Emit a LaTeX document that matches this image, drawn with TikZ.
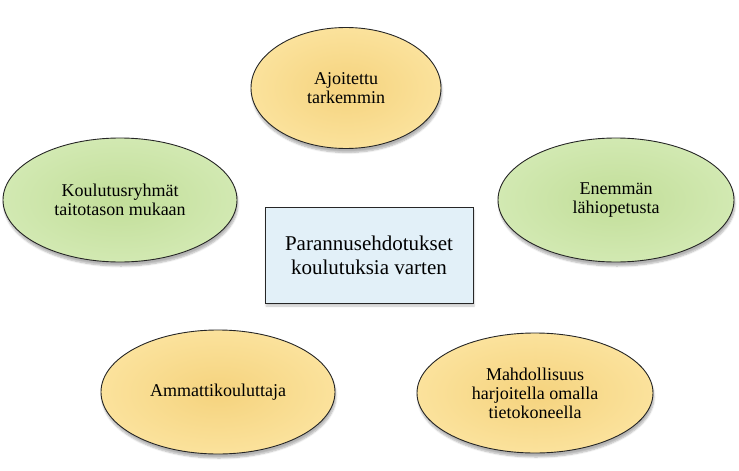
\documentclass[tikz,border=0pt]{standalone}
\usepackage{fontspec}
\setmainfont{Liberation Serif}
\usetikzlibrary{shapes.geometric,shadows.blur}
\definecolor{yout}{RGB}{251,226,156}
\definecolor{yin}{RGB}{245,211,126}
\definecolor{gout}{RGB}{210,233,178}
\definecolor{gin}{RGB}{194,222,153}
\definecolor{bfill}{RGB}{226,240,248}
\tikzset{
  bubble/.style={ellipse, draw=black!85, line width=0.9pt, inner sep=0pt,
    align=center, font=\fontsize{18}{19}\selectfont,
    blur shadow={shadow xshift=1pt, shadow yshift=-4pt, shadow blur steps=6, shadow opacity=30}},
  ybub/.style={bubble, inner color=yin, outer color=yout},
  gbub/.style={bubble, inner color=gin, outer color=gout},
  centerbox/.style={draw=black!85, line width=0.9pt, fill=bfill, align=center,
    font=\fontsize{21}{24}\selectfont,
    blur shadow={shadow xshift=1pt, shadow yshift=-3pt, shadow blur steps=5, shadow opacity=22}}
}
\begin{document}
\begin{tikzpicture}[x=1pt,y=-1pt]
\useasboundingbox (0,0) rectangle (739,471);
\node[centerbox, minimum width=208pt, minimum height=96pt] (c) at (369,255) {Parannusehdotukset\\koulutuksia varten};
\node[ybub, minimum width=190pt, minimum height=121pt] (top) at (346,88) {Ajoitettu\\tarkemmin};
\node[gbub, minimum width=234pt, minimum height=124pt] (left) at (120,200) {Koulutusryhmät\\taitotason mukaan};
\node[gbub, minimum width=236pt, minimum height=124pt] (right) at (616,200) {Enemmän\\lähiopetusta};
\node[ybub, minimum width=234pt, minimum height=124pt] (bl) at (218,392) {Ammattikouluttaja};
\node[ybub, minimum width=236pt, minimum height=120pt] (br) at (535,393) {Mahdollisuus\\harjoitella omalla\\tietokoneella};
\end{tikzpicture}
\end{document}
